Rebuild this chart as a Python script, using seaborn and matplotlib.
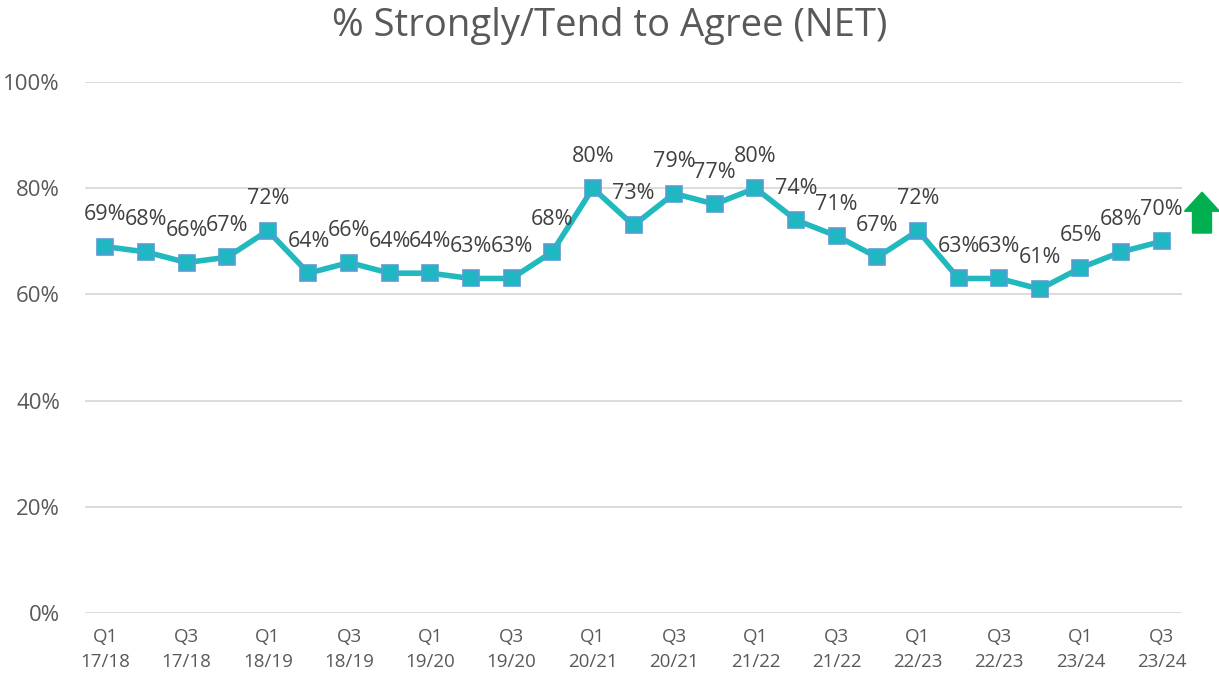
import numpy as np
import pandas as pd
import seaborn as sns
import matplotlib.pyplot as plt
from matplotlib.patches import FancyArrow

# data
quarters = ["Q1", "Q2", "Q3", "Q4"] * 6 + ["Q1", "Q2", "Q3"]
years = (["17/18"] * 4 + ["18/19"] * 4 + ["19/20"] * 4 + ["20/21"] * 4
         + ["21/22"] * 4 + ["22/23"] * 4 + ["23/24"] * 3)
agree_pct = [69, 68, 66, 67, 72, 64, 66, 64, 64, 63, 63, 68, 80, 73,
             79, 77, 80, 74, 71, 67, 72, 63, 63, 61, 65, 68, 70]

df = pd.DataFrame({"period": [f"{q}\n{y}" for q, y in zip(quarters, years)],
                   "value": np.array(agree_pct) / 100})
df["pos"] = np.arange(len(df))

sns.set_theme(style="white")
plt.rcParams["font.family"] = ["Open Sans", "DejaVu Sans"]

fig = plt.figure(figsize=(12.19, 6.8), dpi=100)
ax = fig.add_axes([0.0697, 0.0985, 0.9, 0.7809])

line_col = "#20B9BE"
sns.lineplot(data=df, x="pos", y="value", ax=ax, color=line_col, linewidth=4,
             marker="s", markersize=12, markerfacecolor="#1FB8C2",
             markeredgecolor="#5B9BD5", markeredgewidth=1.2, zorder=3)

for p, v in zip(df["pos"], df["value"]):
    ax.annotate(f"{round(v * 100)}%", (p, v), xytext=(0, 23),
                textcoords="offset points", ha="center", va="center",
                fontsize=15.5, color="#404040")

ax.set_xlim(-0.5, len(df) - 0.5)
ax.set_ylim(0, 1)
ax.set_yticks(np.arange(0, 1.01, 0.2))
ax.set_yticklabels([f"{int(t * 100)}%" for t in np.arange(0, 1.01, 0.2)])
ax.set_xticks(df["pos"][::2])
ax.set_xticklabels(df["period"][::2], linespacing=1.45)
ax.tick_params(axis="y", length=0, pad=18, labelsize=16, labelcolor="#595959")
ax.tick_params(axis="x", length=0, pad=11, labelsize=13.5, labelcolor="#595959")
ax.grid(axis="y", color="#D9D9D9", linewidth=1.3)
ax.grid(axis="x", visible=False)
for s in ax.spines.values():
    s.set_visible(False)
ax.set_xlabel("")
ax.set_ylabel("")

fig.text(0.5, 0.962, "% Strongly/Tend to Agree (NET)", ha="center", va="center",
         fontsize=27.5, color="#595959")

# green up arrow on the right
fig.patches.append(FancyArrow(1202 / 1219, 1 - 233 / 680, 0, 0.06, width=19 / 1219,
                              head_width=35 / 1219, head_length=0.028,
                              length_includes_head=True, color="#00B050",
                              transform=fig.transFigure, figure=fig))

fig.savefig("out.png", dpi=100)
